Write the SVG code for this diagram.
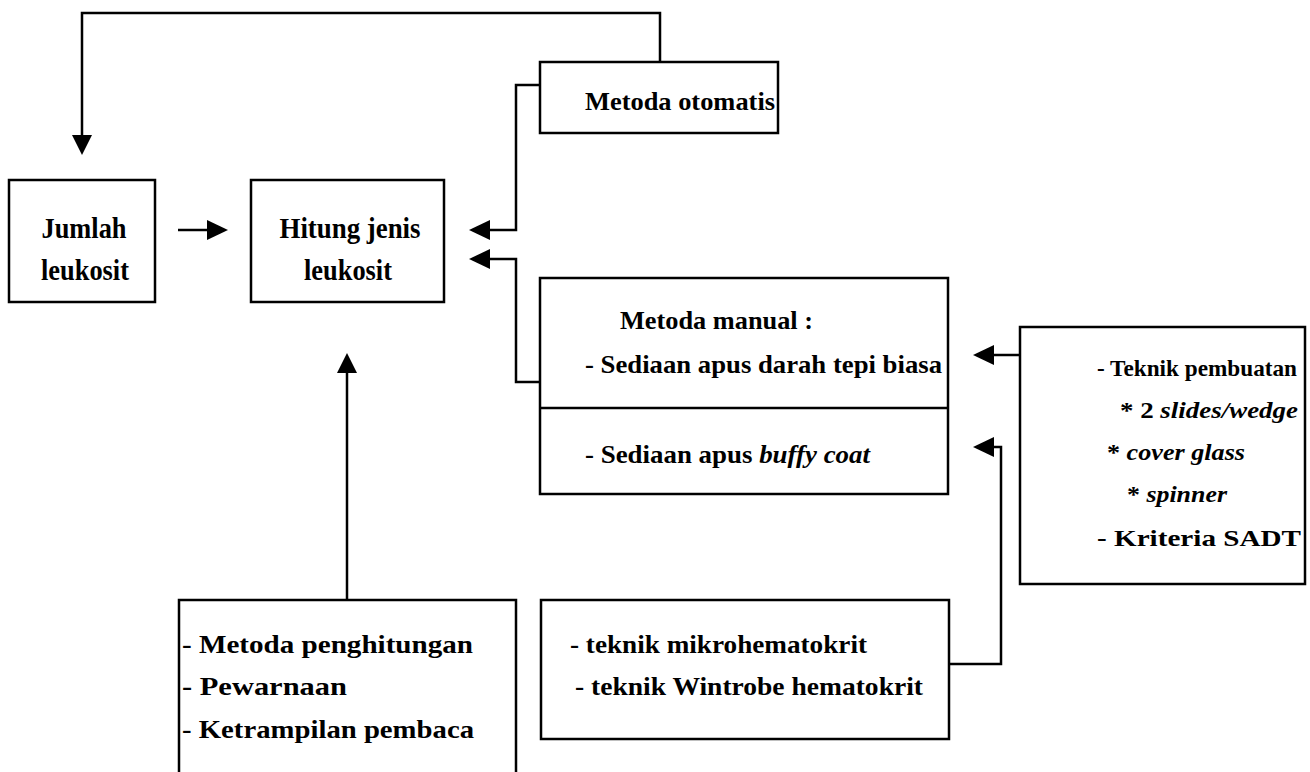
<svg xmlns="http://www.w3.org/2000/svg" width="1310" height="772" viewBox="0 0 1310 772">
<style>
.box{fill:none;stroke:#000;stroke-width:2.5}
.ln{fill:none;stroke:#000;stroke-width:2.5}
.ah{fill:#000;stroke:none}
text{font-family:"Liberation Serif","Times New Roman",serif;font-weight:bold;fill:#000}
.t{font-size:26px}
.s{font-size:23px}
.big{font-size:30px}
.i{font-style:italic}
</style>
<rect width="1310" height="772" fill="#fff"/>
<g id="connectors">
  <path class="ln" d="M660,62 V13 H82 V137"/>
  <polygon class="ah" points="72,135 92,135 82,155"/>
  <path class="ln" d="M540,85 H516 V230 H488"/>
  <polygon class="ah" points="469,230 490,220 490,240"/>
  <path class="ln" d="M540,382 H516 V259 H488"/>
  <polygon class="ah" points="469,259 490,249 490,269"/>
  <path class="ln" d="M178,230 H209"/>
  <polygon class="ah" points="228,230 207,220 207,240"/>
  <path class="ln" d="M1020,355 H992"/>
  <polygon class="ah" points="973,355 994,345 994,365"/>
  <path class="ln" d="M948,664 H1001 V447 H992"/>
  <polygon class="ah" points="973,447 994,437 994,457"/>
  <path class="ln" d="M347,600 V371"/>
  <polygon class="ah" points="347,353 337,373 357,373"/>
</g>
<g id="jumlah">
  <rect class="box" x="9" y="180" width="146" height="122"/>
  <text class="big" x="84" y="238" text-anchor="middle" textLength="85" lengthAdjust="spacingAndGlyphs">Jumlah</text>
  <text class="big" x="85" y="280" text-anchor="middle" textLength="88" lengthAdjust="spacingAndGlyphs">leukosit</text>
</g>
<g id="hitung">
  <rect class="box" x="251" y="180" width="193" height="122"/>
  <text class="big" x="350" y="238" text-anchor="middle" textLength="141" lengthAdjust="spacingAndGlyphs">Hitung jenis</text>
  <text class="big" x="348" y="280" text-anchor="middle" textLength="88" lengthAdjust="spacingAndGlyphs">leukosit</text>
</g>
<g id="otomatis">
  <rect class="box" x="540" y="62" width="238" height="71"/>
  <text class="t" x="585" y="110" textLength="190" lengthAdjust="spacingAndGlyphs">Metoda otomatis</text>
</g>
<g id="manual">
  <rect class="box" x="540" y="278" width="408" height="216"/>
  <line class="ln" x1="540" y1="408" x2="948" y2="408"/>
  <text class="t" x="620" y="329" textLength="193" lengthAdjust="spacingAndGlyphs">Metoda manual :</text>
  <text class="t" x="585" y="373" textLength="357" lengthAdjust="spacingAndGlyphs">- Sediaan apus darah tepi biasa</text>
  <text class="t" x="585" y="463" textLength="285" lengthAdjust="spacingAndGlyphs">- Sediaan apus <tspan class="i">buffy coat</tspan></text>
</g>
<g id="teknik">
  <rect class="box" x="1020" y="327" width="285" height="257"/>
  <text class="s" x="1097" y="376" textLength="200" lengthAdjust="spacingAndGlyphs">- Teknik pembuatan</text>
  <text class="s" x="1120" y="418" textLength="178" lengthAdjust="spacingAndGlyphs">* 2 <tspan class="i">slides/wedge</tspan></text>
  <text class="s" x="1107" y="460" textLength="138" lengthAdjust="spacingAndGlyphs">* <tspan class="i">cover glass</tspan></text>
  <text class="s" x="1127" y="502" textLength="100" lengthAdjust="spacingAndGlyphs">* <tspan class="i">spinner</tspan></text>
  <text class="s" x="1097" y="546" textLength="204" lengthAdjust="spacingAndGlyphs">- Kriteria SADT</text>
</g>
<g id="faktor">
  <rect class="box" x="179" y="600" width="337" height="180"/>
  <text class="t" x="182" y="653" textLength="291" lengthAdjust="spacingAndGlyphs">- Metoda penghitungan</text>
  <text class="t" x="182" y="695" textLength="165" lengthAdjust="spacingAndGlyphs">- Pewarnaan</text>
  <text class="t" x="182" y="738" textLength="292" lengthAdjust="spacingAndGlyphs">- Ketrampilan pembaca</text>
</g>
<g id="hematokrit">
  <rect class="box" x="541" y="600" width="408" height="139"/>
  <text class="t" x="570" y="653" textLength="297" lengthAdjust="spacingAndGlyphs">- teknik mikrohematokrit</text>
  <text class="t" x="575" y="695" textLength="348" lengthAdjust="spacingAndGlyphs">- teknik Wintrobe hematokrit</text>
</g>
</svg>
